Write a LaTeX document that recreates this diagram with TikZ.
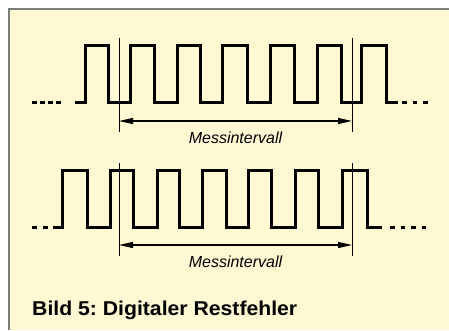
\documentclass[tikz,border=0pt]{standalone}
\usepackage{fontspec}
\setmainfont{Liberation Sans}
\usetikzlibrary{arrows.meta}
\frenchspacing
\definecolor{bgyellow}{RGB}{254,249,210}
\definecolor{framegray}{RGB}{125,125,125}
\tikzset{
  wave/.style={line width=3pt, line join=miter, line cap=butt},
  wavedots/.style={line width=3pt, dash pattern=on 4.5pt off 3.5pt},
  marker/.style={line width=1pt},
  interval/.style={line width=1.2pt, {Triangle[length=14pt,width=6pt]}-{Triangle[length=14pt,width=6pt]}},
  lbl/.style={font=\fontsize{16}{16}\selectfont\itshape, anchor=base},
}
\begin{document}
\begin{tikzpicture}[x=1pt,y=-1pt]
\useasboundingbox (0,0) rectangle (449,330);
\fill[white] (0,0) rectangle (449,330);
\fill[bgyellow] (9,9) rectangle (449,330);
\draw[framegray, line width=1.2pt] (9,330) -- (9,9) -- (449,9);
% top waveform
\draw[wavedots] (32,102) -- (62,102);
\draw[wave] (75,102) -- (85,102) -- (85,45) -- (108,45) -- (108,102)
  -- (130,102) -- (130,45) -- (154,45) -- (154,102)
  -- (177,102) -- (177,45) -- (200,45) -- (200,102)
  -- (222,102) -- (222,45) -- (247,45) -- (247,102)
  -- (270,102) -- (270,45) -- (294,45) -- (294,102)
  -- (317,102) -- (317,45) -- (341,45) -- (341,102)
  -- (361,102) -- (361,45) -- (386,45) -- (386,102) -- (398,102);
\draw[line width=3pt, dash pattern=on 4.5pt off 6pt] (402,102) -- (430,102);
% top markers
\coordinate (t1a) at (119,38); \coordinate (t1b) at (119,132);
\coordinate (t2a) at (352,38); \coordinate (t2b) at (352,132);
\draw[marker] (t1a) -- (t1b);
\draw[marker] (t2a) -- (t2b);
\coordinate (ta) at (119,121); \coordinate (tb) at (352,121);
\draw[interval] (ta) -- (tb);
\node[lbl] (l1) at (235.5,143) {Messintervall};
% bottom waveform
\draw[line width=3pt, dash pattern=on 4.5pt off 6.5pt] (32,227) -- (50,227);
\draw[wave] (53,227) -- (62,227) -- (62,170) -- (87,170) -- (87,227)
  -- (110,227) -- (110,170) -- (133,170) -- (133,227)
  -- (157,227) -- (157,170) -- (179,170) -- (179,227)
  -- (202,227) -- (202,170) -- (226,170) -- (226,227)
  -- (248,227) -- (248,170) -- (271,170) -- (271,227)
  -- (295,227) -- (295,170) -- (318,170) -- (318,227)
  -- (342,227) -- (342,170) -- (367,170) -- (367,227) -- (382,227);
\draw[line width=3pt, dash pattern=on 4.5pt off 6pt] (390,227) -- (430,227);
% bottom markers
\coordinate (b1a) at (119,163); \coordinate (b1b) at (119,256);
\coordinate (b2a) at (352,163); \coordinate (b2b) at (352,256);
\draw[marker] (b1a) -- (b1b);
\draw[marker] (b2a) -- (b2b);
\coordinate (ba) at (119,245); \coordinate (bb) at (352,245);
\draw[interval] (ba) -- (bb);
\node[lbl] (l2) at (235.5,267) {Messintervall};
% caption
\node[font=\fontsize{20}{20}\selectfont\bfseries, anchor=base west, inner sep=0pt] (cap) at (32,315) {\scalebox{1.06}[1]{Bild 5: Digitaler Restfehler}};
\end{tikzpicture}
\end{document}
